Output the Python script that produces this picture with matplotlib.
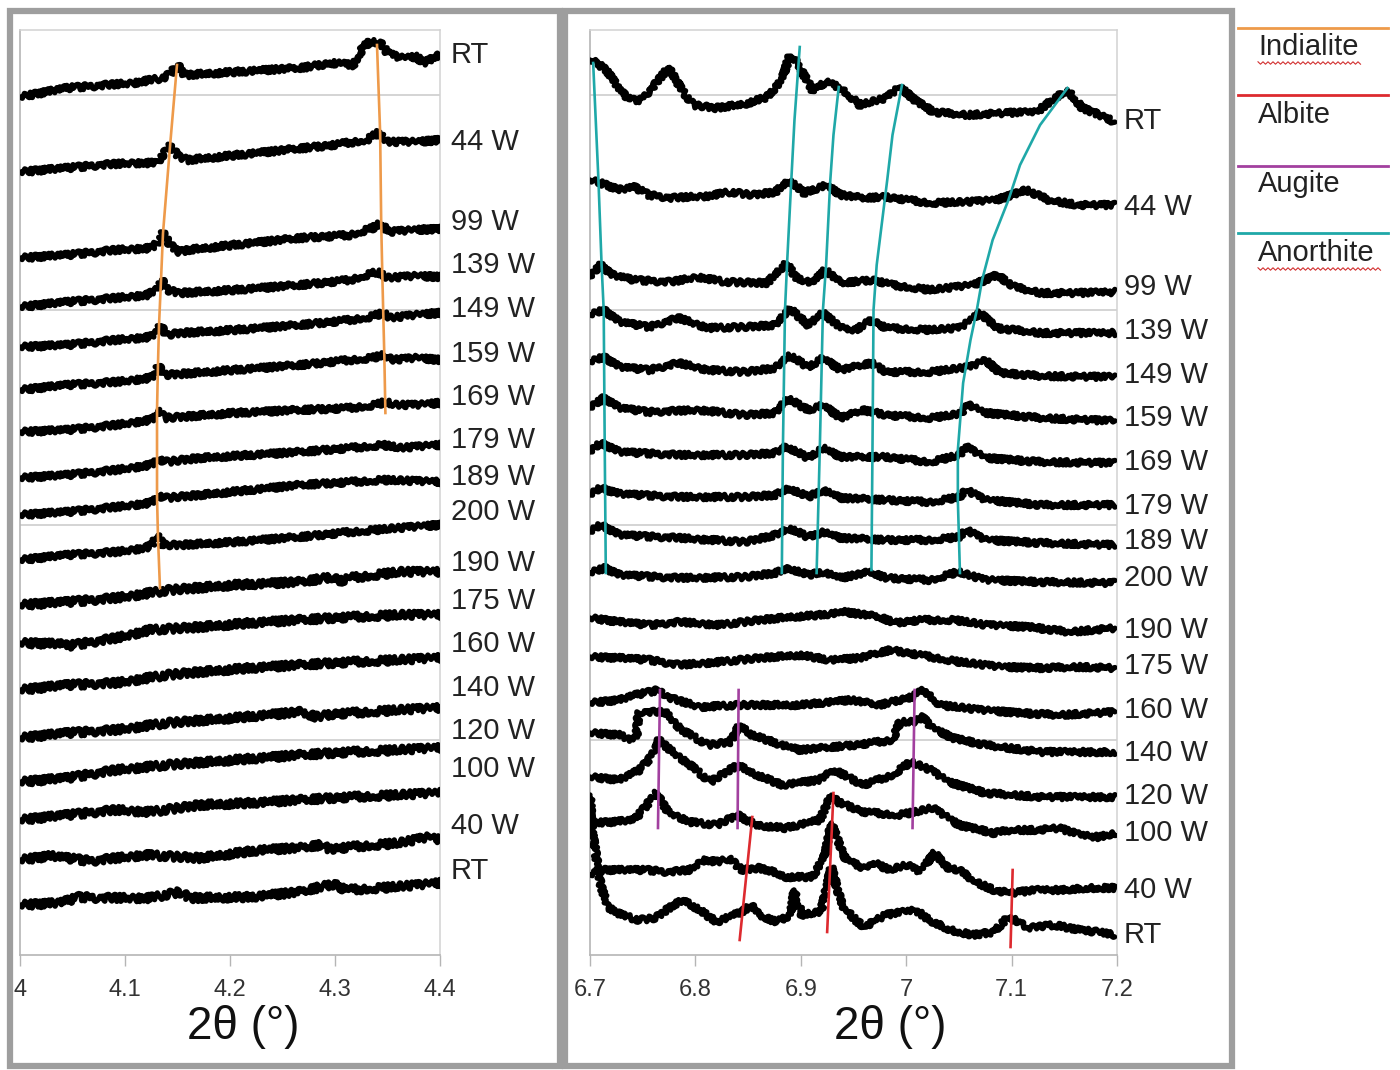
import numpy as np
import matplotlib
matplotlib.use('Agg')
import matplotlib.pyplot as plt
from matplotlib.transforms import blended_transform_factory
from matplotlib.patches import Rectangle
from matplotlib.lines import Line2D
from matplotlib.ticker import FuncFormatter

plt.rcParams['font.family'] = ['Liberation Sans', 'DejaVu Sans']

# ---------------- left panel (2theta 4.0 - 4.4), top to bottom ----------------
left_labels = ['RT', '44 W', '99 W', '139 W', '149 W', '159 W', '169 W', '179 W', '189 W',
               '200 W', '190 W', '175 W', '160 W', '140 W', '120 W', '100 W', '40 W', 'RT']
left_label_y = [900, 813, 733, 690, 646, 601, 558, 515, 478, 443,
                392, 354, 311, 267, 224, 186, 129, 84]

left_x = [
    [4.000, 4.045, 4.108, 4.136, 4.143, 4.150, 4.157, 4.203, 4.267, 4.298, 4.317, 4.327, 4.333, 4.343, 4.350, 4.362, 4.378, 4.384, 4.400],
    [4.000, 4.045, 4.076, 4.108, 4.130, 4.136, 4.143, 4.150, 4.159, 4.188, 4.235, 4.298, 4.330, 4.341, 4.350, 4.378, 4.400],
    [4.000, 4.045, 4.092, 4.126, 4.133, 4.136, 4.143, 4.152, 4.159, 4.203, 4.267, 4.314, 4.336, 4.344, 4.350, 4.378, 4.400],
    [4.000, 4.045, 4.092, 4.121, 4.130, 4.135, 4.140, 4.152, 4.203, 4.267, 4.314, 4.340, 4.350, 4.378, 4.400],
    [4.000, 4.045, 4.092, 4.124, 4.130, 4.133, 4.140, 4.152, 4.203, 4.267, 4.314, 4.333, 4.346, 4.352, 4.378, 4.400],
    [4.000, 4.045, 4.092, 4.124, 4.129, 4.131, 4.138, 4.152, 4.203, 4.267, 4.314, 4.335, 4.347, 4.354, 4.378, 4.400],
    [4.000, 4.045, 4.092, 4.124, 4.129, 4.131, 4.138, 4.152, 4.203, 4.267, 4.314, 4.338, 4.348, 4.357, 4.378, 4.400],
    [4.000, 4.045, 4.092, 4.124, 4.129, 4.131, 4.138, 4.171, 4.219, 4.267, 4.314, 4.346, 4.362, 4.400],
    [4.000, 4.045, 4.092, 4.124, 4.129, 4.131, 4.138, 4.171, 4.219, 4.267, 4.314, 4.346, 4.400],
    [4.000, 4.045, 4.092, 4.119, 4.126, 4.131, 4.136, 4.152, 4.203, 4.267, 4.314, 4.362, 4.400],
    [4.000, 4.045, 4.092, 4.143, 4.203, 4.267, 4.298, 4.305, 4.314, 4.362, 4.400],
    [4.000, 4.040, 4.045, 4.092, 4.124, 4.171, 4.219, 4.267, 4.314, 4.362, 4.400],
    [4.000, 4.045, 4.092, 4.140, 4.171, 4.219, 4.267, 4.314, 4.362, 4.400],
    [4.000, 4.045, 4.092, 4.140, 4.203, 4.267, 4.283, 4.298, 4.362, 4.400],
    [4.000, 4.045, 4.092, 4.140, 4.203, 4.267, 4.314, 4.362, 4.400],
    [4.000, 4.045, 4.092, 4.124, 4.171, 4.219, 4.267, 4.314, 4.362, 4.400],
    [4.000, 4.029, 4.067, 4.119, 4.171, 4.229, 4.267, 4.286, 4.295, 4.314, 4.362, 4.390, 4.400],
    [4.000, 4.038, 4.057, 4.076, 4.124, 4.152, 4.162, 4.219, 4.267, 4.286, 4.300, 4.310, 4.343, 4.381, 4.400],
]
left_y = [
    [858, 867, 872, 877, 881, 890, 880, 883, 887, 892, 890, 908, 913, 912, 902, 897, 898, 892, 900],
    [783, 787, 790, 792, 792, 800, 809, 800, 795, 798, 803, 810, 815, 822, 813, 813, 815],
    [697, 700, 705, 707, 715, 722, 710, 703, 705, 710, 717, 720, 727, 732, 723, 725, 726],
    [648, 653, 657, 660, 665, 675, 665, 662, 665, 670, 675, 683, 677, 679, 678],
    [608, 610, 615, 618, 622, 630, 620, 622, 625, 630, 635, 638, 642, 637, 640, 642],
    [565, 570, 573, 577, 580, 590, 580, 581, 585, 590, 595, 597, 600, 595, 597, 595],
    [523, 525, 530, 535, 537, 545, 537, 538, 542, 545, 547, 550, 553, 550, 550, 552],
    [477, 480, 485, 490, 492, 497, 493, 497, 500, 503, 507, 510, 507, 510],
    [440, 443, 448, 452, 455, 460, 457, 460, 465, 470, 473, 475, 473],
    [395, 400, 403, 407, 410, 420, 410, 410, 413, 418, 423, 427, 430],
    [350, 353, 357, 365, 370, 373, 378, 374, 377, 383, 383],
    [312, 311, 309, 317, 325, 328, 332, 335, 338, 340, 340],
    [265, 270, 272, 280, 283, 287, 290, 293, 295, 297],
    [217, 222, 225, 232, 237, 243, 238, 241, 245, 247],
    [173, 177, 185, 190, 195, 200, 203, 205, 207],
    [135, 140, 145, 143, 150, 152, 155, 158, 160, 162],
    [95, 99, 94, 100, 97, 105, 107, 110, 106, 108, 112, 118, 115],
    [50, 52, 58, 57, 57, 63, 57, 58, 63, 68, 71, 65, 67, 70, 72],
]

# ---------------- right panel (2theta 6.7 - 7.2), top to bottom ----------------
right_labels = ['RT', '44 W', '99 W', '139 W', '149 W', '159 W', '169 W', '179 W', '189 W',
                '200 W', '190 W', '175 W', '160 W', '140 W', '120 W', '100 W', '40 W', 'RT']
right_label_y = [834, 748, 668, 624, 580, 537, 493, 449, 414, 377,
                 325, 289, 245, 202, 159, 122, 65, 20]

x_w179 = [6.700, 6.710, 6.728, 6.785, 6.847, 6.876, 6.889, 6.907, 6.921, 6.938, 6.981, 7.023, 7.051, 7.057, 7.075, 7.128, 7.198]
right_x = [
    [6.700, 6.707, 6.717, 6.728, 6.738, 6.748, 6.759, 6.775, 6.787, 6.798, 6.819, 6.847, 6.868, 6.882, 6.889, 6.896,
     6.911, 6.924, 6.938, 6.956, 6.981, 6.994, 7.008, 7.026, 7.058, 7.093, 7.124, 7.138, 7.153, 7.167, 7.184, 7.198],
    [6.700, 6.710, 6.728, 6.742, 6.756, 6.777, 6.794, 6.812, 6.833, 6.854, 6.876, 6.889, 6.903, 6.924, 6.938, 6.959,
     6.981, 7.002, 7.023, 7.058, 7.086, 7.114, 7.135, 7.163, 7.198],
    [6.700, 6.710, 6.721, 6.742, 6.777, 6.802, 6.829, 6.868, 6.886, 6.896, 6.911, 6.923, 6.938, 6.969, 6.987, 7.023,
     7.064, 7.086, 7.103, 7.128, 7.163, 7.198],
    [6.700, 6.713, 6.728, 6.756, 6.784, 6.812, 6.847, 6.876, 6.889, 6.907, 6.921, 6.938, 6.952, 6.967, 6.981, 7.023,
     7.051, 7.064, 7.070, 7.086, 7.128, 7.198],
    [6.700, 6.713, 6.728, 6.756, 6.784, 6.812, 6.847, 6.876, 6.889, 6.907, 6.921, 6.938, 6.967, 6.981, 7.023, 7.061,
     7.075, 7.089, 7.128, 7.198],
    [6.700, 6.713, 6.728, 6.756, 6.804, 6.847, 6.876, 6.887, 6.907, 6.921, 6.938, 6.959, 6.981, 7.023, 7.051, 7.059,
     7.075, 7.128, 7.198],
    [6.700, 6.710, 6.728, 6.785, 6.847, 6.876, 6.886, 6.907, 6.921, 6.938, 6.981, 7.023, 7.051, 7.057, 7.075, 7.128, 7.198],
    x_w179,
    x_w179,
    [6.700, 6.714, 6.728, 6.785, 6.847, 6.876, 6.889, 6.907, 6.921, 6.938, 6.966, 6.981, 7.023, 7.049, 7.075, 7.128, 7.198],
    [6.700, 6.728, 6.757, 6.785, 6.823, 6.861, 6.890, 6.918, 6.942, 6.975, 6.989, 7.013, 7.046, 7.075, 7.117, 7.155, 7.198],
    [6.700, 6.728, 6.757, 6.785, 6.823, 6.861, 6.899, 6.928, 6.956, 6.985, 7.013, 7.051, 7.089, 7.127, 7.165, 7.198],
    [6.700, 6.728, 6.743, 6.765, 6.776, 6.804, 6.842, 6.899, 6.947, 6.975, 7.005, 7.017, 7.032, 7.070, 7.108, 7.146, 7.198],
    [6.700, 6.728, 6.738, 6.744, 6.746, 6.755, 6.771, 6.787, 6.812, 6.833, 6.842, 6.854, 6.882, 6.899, 6.952, 6.987,
     6.994, 7.008, 7.016, 7.023, 7.044, 7.075, 7.128, 7.198],
    [6.700, 6.728, 6.747, 6.757, 6.765, 6.776, 6.795, 6.814, 6.840, 6.852, 6.882, 6.917, 6.932, 6.959, 6.987, 7.004,
     7.023, 7.040, 7.075, 7.128, 7.198],
    [6.700, 6.721, 6.742, 6.754, 6.762, 6.774, 6.795, 6.820, 6.840, 6.857, 6.885, 6.918, 6.929, 6.935, 6.960, 6.992,
     7.009, 7.025, 7.050, 7.083, 7.099, 7.124, 7.145, 7.165, 7.182, 7.198],
    [6.700, 6.712, 6.733, 6.754, 6.774, 6.795, 6.807, 6.823, 6.832, 6.844, 6.860, 6.869, 6.885, 6.911, 6.923, 6.929,
     6.935, 6.943, 6.960, 6.968, 6.984, 7.001, 7.013, 7.027, 7.038, 7.050, 7.066, 7.083, 7.099, 7.124, 7.145, 7.173, 7.198],
    [6.700, 6.702, 6.706, 6.710, 6.717, 6.730, 6.746, 6.762, 6.779, 6.789, 6.804, 6.820, 6.836, 6.844, 6.853, 6.860,
     6.877, 6.890, 6.894, 6.901, 6.919, 6.924, 6.929, 6.939, 6.952, 6.960, 6.980, 6.997, 7.009, 7.022, 7.042, 7.063,
     7.083, 7.096, 7.103, 7.116, 7.140, 7.165, 7.182, 7.198],
]
right_y = [
    [895, 892, 883, 865, 855, 855, 867, 888, 865, 850, 847, 851, 858, 875, 898, 893,
     865, 873, 867, 850, 857, 868, 855, 843, 840, 842, 843, 855, 865, 847, 840, 833],
    [775, 772, 765, 768, 760, 757, 758, 759, 763, 760, 763, 775, 762, 770, 760, 757,
     758, 755, 752, 753, 755, 765, 755, 750, 750],
    [678, 690, 680, 675, 673, 678, 673, 672, 692, 677, 672, 685, 672, 675, 670, 665,
     670, 680, 668, 662, 662, 663],
    [640, 645, 633, 628, 637, 627, 628, 630, 647, 630, 642, 627, 625, 635, 627, 625,
     627, 637, 642, 627, 622, 622],
    [593, 598, 588, 585, 592, 585, 583, 587, 600, 588, 597, 585, 592, 583, 583, 588,
     595, 582, 579, 578],
    [547, 557, 547, 543, 545, 540, 542, 557, 545, 550, 537, 545, 540, 537, 541, 550,
     542, 537, 534],
    [503, 512, 503, 500, 500, 502, 509, 497, 507, 498, 498, 493, 500, 508, 497, 493, 492],
    [460, 467, 461, 458, 458, 460, 467, 458, 465, 457, 455, 453, 458, 465, 455, 450, 450],
    [423, 430, 420, 417, 413, 420, 427, 418, 423, 417, 415, 415, 418, 425, 415, 412, 410],
    [382, 387, 380, 377, 378, 382, 387, 380, 383, 377, 383, 377, 375, 383, 375, 373, 372],
    [337, 333, 330, 333, 330, 335, 338, 340, 343, 338, 332, 335, 335, 330, 328, 323, 327],
    [298, 297, 295, 290, 293, 297, 300, 295, 297, 305, 300, 293, 288, 287, 288, 287],
    [252, 255, 260, 265, 257, 248, 250, 250, 255, 250, 258, 265, 250, 245, 242, 240, 243],
    [222, 220, 215, 217, 243, 243, 243, 225, 210, 213, 230, 220, 210, 205, 210, 215,
     233, 233, 238, 228, 217, 210, 203, 203],
    [178, 175, 185, 197, 215, 205, 190, 173, 190, 183, 170, 175, 185, 170, 180, 193,
     185, 173, 162, 158, 158],
    [132, 133, 135, 150, 163, 143, 133, 130, 140, 130, 127, 135, 160, 153, 143, 140,
     143, 147, 130, 122, 125, 125, 127, 120, 118, 122],
    [80, 85, 85, 85, 83, 85, 95, 93, 97, 85, 87, 85, 78, 78, 100, 132,
     115, 95, 87, 93, 85, 90, 83, 102, 88, 85, 73, 65, 62, 65, 65, 67, 67],
    [160, 125, 98, 70, 48, 40, 35, 37, 50, 55, 45, 33, 40, 43, 50, 40,
     33, 40, 65, 40, 43, 65, 88, 50, 35, 28, 40, 43, 45, 35, 25, 20,
     23, 37, 35, 27, 30, 25, 23, 20],
]

# ---------------- phase guide lines ----------------
indialite_x = [[4.1495, 4.1429, 4.1362, 4.1343, 4.1324, 4.1314, 4.1305, 4.1305, 4.1305, 4.1314, 4.1333],
               [4.340, 4.343, 4.344, 4.345, 4.346, 4.347, 4.348]]
indialite_y = [[890, 809, 722, 675, 630, 590, 545, 495, 458, 418, 367],
               [910, 822, 732, 683, 640, 598, 542]]

anorthite_x = [[6.703, 6.708, 6.711, 6.713, 6.714, 6.715],
               [6.899, 6.894, 6.891, 6.887, 6.885, 6.883, 6.882],
               [6.936, 6.931, 6.928, 6.924, 6.921, 6.918, 6.915],
               [6.996, 6.987, 6.982, 6.972, 6.969, 6.968, 6.967],
               [7.153, 7.127, 7.108, 7.097, 7.082, 7.072, 7.067, 7.061, 7.054, 7.049, 7.049, 7.051]]
anorthite_y = [[892, 775, 690, 645, 505, 382],
               [908, 835, 775, 692, 645, 505, 382],
               [868, 820, 775, 690, 645, 505, 382],
               [870, 820, 775, 690, 645, 505, 385],
               [867, 830, 790, 755, 715, 675, 645, 615, 572, 505, 455, 382]]

augite_x = [[6.7664, 6.7645], [6.841, 6.840], [7.008, 7.006]]
augite_y = [[265, 127], [265, 127], [265, 127]]

albite_x = [[6.854, 6.842], [6.931, 6.925], [7.101, 7.099]]
albite_y = [[138, 15], [162, 23], [85, 8]]

legend_names = ['Indialite', 'Albite', 'Augite', 'Anorthite']
legend_colors = ['#ee9a4a', '#dd2a2f', '#a2409f', '#1fa8a8']

left_ticks = [4.0, 4.1, 4.2, 4.3, 4.4]
right_ticks = [6.7, 6.8, 6.9, 7.0, 7.1, 7.2]

W, H = 1400, 1070
fig = plt.figure(figsize=(W / 100, H / 100), dpi=100)
fig.patch.set_facecolor('white')


def make_axes(x0, x1, xlim, ticks):
    ax = fig.add_axes([x0 / W, 1 - 955 / H, (x1 - x0) / W, 925 / H])
    ax.set_xlim(*xlim)
    ax.set_ylim(0, 925)
    ax.set_yticks([215, 430, 645, 860])
    ax.yaxis.grid(True, color='#c9c9c9', lw=1.1)
    ax.set_axisbelow(True)
    ax.tick_params(axis='y', left=False, labelleft=False)
    ax.set_xticks(ticks)
    ax.xaxis.set_major_formatter(FuncFormatter(lambda v, p: '%g' % round(v, 2)))
    ax.tick_params(axis='x', direction='out', length=8, width=1, color='#b5b5b5',
                   labelsize=17, labelcolor='#333333', pad=9)
    for side in ['left', 'bottom']:
        ax.spines[side].set_color('#b5b5b5')
        ax.spines[side].set_linewidth(1.2)
    for side in ['top', 'right']:
        ax.spines[side].set_color('#d2d2d2')
        ax.spines[side].set_linewidth(1.1)
    return ax


def draw_trace(ax, xs, ys, noise):
    line, = ax.plot(xs, ys, color='black', lw=3.9, solid_joinstyle='round',
                    solid_capstyle='round', zorder=3)
    # noisy counting-statistics look of the measured patterns
    line.set_sketch_params(scale=noise, length=6, randomness=4)


axL = make_axes(20, 440, (4.0, 4.4), left_ticks)
axR = make_axes(590, 1117, (6.7, 7.2), right_ticks)

for i, (xs, ys) in enumerate(zip(left_x, left_y)):
    draw_trace(axL, xs, ys, 3.6 if i >= 10 else 2.8)
for xs, ys in zip(right_x, right_y):
    draw_trace(axR, xs, ys, 2.6)

for xs, ys in zip(indialite_x, indialite_y):
    axL.plot(xs, ys, color=legend_colors[0], lw=1.9, zorder=4)
for xs, ys in zip(albite_x, albite_y):
    axR.plot(xs, ys, color=legend_colors[1], lw=1.9, zorder=4)
for xs, ys in zip(augite_x, augite_y):
    axR.plot(xs, ys, color=legend_colors[2], lw=1.9, zorder=4)
for xs, ys in zip(anorthite_x, anorthite_y):
    axR.plot(xs, ys, color=legend_colors[3], lw=1.9, zorder=4)

# sample labels at the end of each pattern
for ax, labels, ly, gap in [(axL, left_labels, left_label_y, 11 / 420),
                            (axR, right_labels, right_label_y, 7 / 527)]:
    tr = blended_transform_factory(ax.transAxes, ax.transData)
    for lab, y in zip(labels, ly):
        ax.text(1 + gap, y, lab, transform=tr, ha='left', va='center',
                fontsize=21, color='#222222', clip_on=False)

# axis titles
fig.text(243 / W, 1 - 1027 / H, '2θ (°)', ha='center', va='center', fontsize=33, color='#111111')
fig.text(890 / W, 1 - 1027 / H, '2θ (°)', ha='center', va='center', fontsize=33, color='#111111')

# panel frames
for fx0, fx1 in [(10, 560), (565, 1232)]:
    fig.patches.append(Rectangle((fx0 / W, 1 - 1066 / H), (fx1 - fx0) / W, 1055 / H,
                                 transform=fig.transFigure, fill=False,
                                 ec='#9e9e9e', lw=4.5, zorder=0))

# legend on the right
leg_line_y = [28, 95, 166, 233]
leg_text_y = [47, 115, 184, 253]
for name, col, ly, ty in zip(legend_names, legend_colors, leg_line_y, leg_text_y):
    fig.add_artist(Line2D([1238 / W, 1388 / W], [1 - ly / H, 1 - ly / H],
                          transform=fig.transFigure, color=col, lw=2))
    fig.text(1258 / W, 1 - ty / H, name, ha='left', va='center', fontsize=21, color='#222222')

# spell-check squiggles under two legend words
for sx0, sx1, sy in [(1258, 1362, 63), (1258, 1380, 269)]:
    zx = np.arange(sx0, sx1 + 1, 2.5)
    zy = sy + np.where(np.arange(len(zx)) % 2 == 0, -1.2, 1.2)
    fig.add_artist(Line2D(zx / W, 1 - zy / H, transform=fig.transFigure,
                          color='#d23030', lw=0.8))

fig.savefig('out.png', dpi=100, facecolor='white')
